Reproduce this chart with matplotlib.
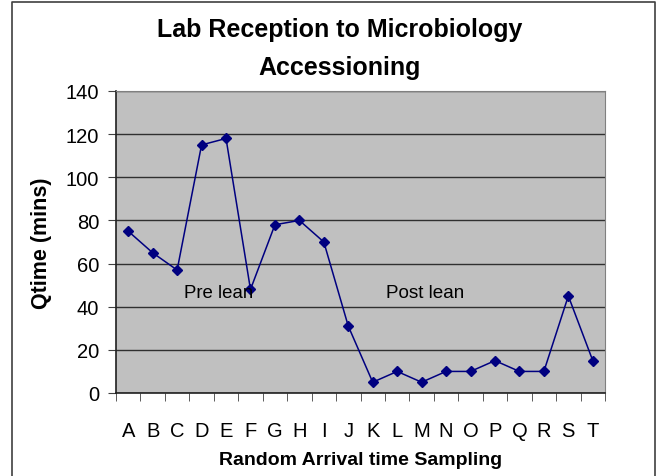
import numpy as np
import matplotlib
matplotlib.use('Agg')
from matplotlib import pyplot as plt
from matplotlib.lines import Line2D

# data
samples = list('ABCDEFGHIJKLMNOPQRST')
qtime = [75, 65, 57, 115, 118, 48, 78, 80, 70, 31, 5, 10, 5, 10, 10, 15, 10, 10, 45, 15]
y_ticks = [0, 20, 40, 60, 80, 100, 120, 140]

plt.rcParams['font.family'] = ['Liberation Sans', 'DejaVu Sans']

fig = plt.figure(figsize=(6.58, 4.77), dpi=100)
ax = fig.add_axes([116/658, 1-394/477, (605-116)/658, (394-92)/477])

# outer frame of the chart area
fig.add_artist(Line2D([12/658, 12/658, 655/658, 655/658], [0, 1-3/477, 1-3/477, 0],
                      transform=fig.transFigure, color='#404040', lw=1.2))

x = np.arange(len(samples))
ax.set_facecolor('#C0C0C0')
ax.plot(x, qtime, color='#000080', lw=1.1, marker='D', markersize=5.5,
        markerfacecolor='#000080', markeredgecolor='#000080', zorder=3)

ax.set_xlim(-0.5, len(samples) - 0.5)
ax.set_ylim(0, 140)
ax.set_yticks(y_ticks)
ax.set_xticks(x)
ax.set_xticklabels(samples)
ax.set_xticks(np.arange(-0.5, len(samples)), minor=True)
ax.tick_params(axis='x', which='major', length=0, pad=20, labelsize=14.5)
ax.tick_params(axis='x', which='minor', length=6, direction='out', color='#404040')
ax.tick_params(axis='y', length=6, direction='out', labelsize=14.5, pad=6, color='#404040')
ax.yaxis.grid(True, color='#303030', lw=1.0)
ax.set_axisbelow(True)

for side in ['top', 'right']:
    ax.spines[side].set_color('#808080')
for side in ['left', 'bottom']:
    ax.spines[side].set_color('#202020')
    ax.spines[side].set_linewidth(1.2)

ax.text(2.28, 46.5, 'Pre lean', fontsize=13.4, va='center', ha='left')
ax.text(10.54, 46.5, 'Post lean', fontsize=13.6, va='center', ha='left')

ax.set_xlabel('Random Arrival time Sampling', fontsize=14, fontweight='bold', labelpad=8)
ax.set_ylabel('Qtime (mins)', fontsize=15.5, fontweight='bold', labelpad=10)

fig.text(340/658, 1-30/477, 'Lab Reception to Microbiology', fontsize=18, fontweight='bold',
         ha='center', va='center')
fig.text(340/658, 1-68/477, 'Accessioning', fontsize=18, fontweight='bold',
         ha='center', va='center')

fig.savefig('out.png', dpi=100)
